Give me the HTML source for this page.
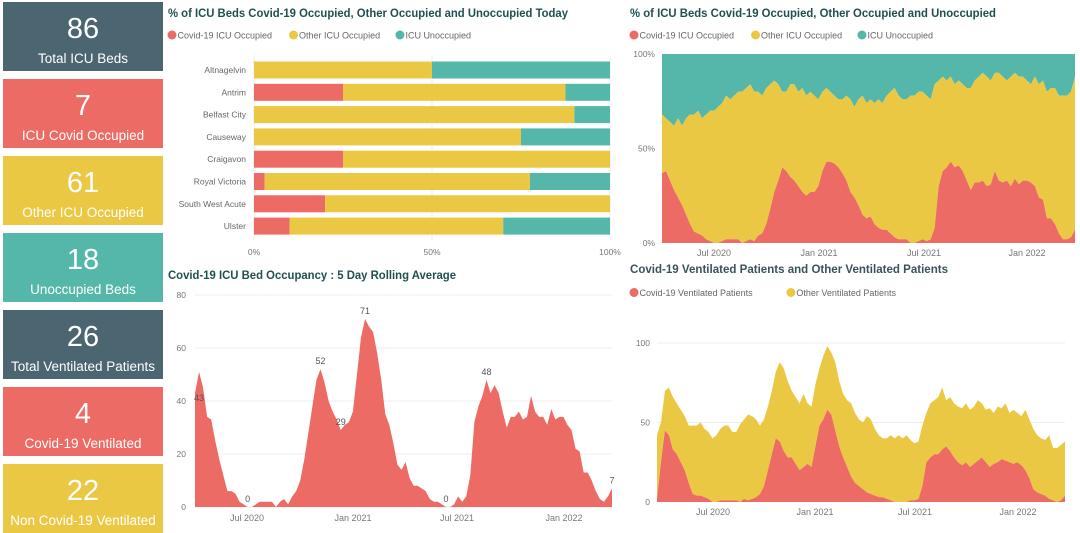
<!DOCTYPE html>
<html><head><meta charset="utf-8">
<style>
body{margin:0;width:1080px;height:531px;background:#fff;overflow:hidden;font-family:"Liberation Sans",sans-serif;position:relative}
.card{position:absolute;left:3px;width:160px;height:69px;color:#fff;text-align:center}
.card .v{font-size:29px;line-height:29px;margin-top:13px}
.card .l{font-size:13.5px;margin-top:7px;white-space:nowrap}
svg{position:absolute;left:0;top:0}
text{font-family:"Liberation Sans",sans-serif}
</style></head><body>
<div class="card" style="top:2px;background:#4B6670"><div class="v">86</div><div class="l">Total ICU Beds</div></div>
<div class="card" style="top:79px;background:#EC6B64"><div class="v">7</div><div class="l">ICU Covid Occupied</div></div>
<div class="card" style="top:156px;background:#EBC844"><div class="v">61</div><div class="l">Other ICU Occupied</div></div>
<div class="card" style="top:233px;background:#55B7A9"><div class="v">18</div><div class="l">Unoccupied Beds</div></div>
<div class="card" style="top:310px;background:#4B6670"><div class="v">26</div><div class="l">Total Ventilated Patients</div></div>
<div class="card" style="top:387px;background:#EC6B64"><div class="v">4</div><div class="l">Covid-19 Ventilated</div></div>
<div class="card" style="top:464px;height:69px;background:#EBC844"><div class="v">22</div><div class="l">Non Covid-19 Ventilated</div></div>

<svg id="s" width="1080" height="531"></svg>
<script>
const hospitals=["Altnagelvin","Antrim","Belfast City","Causeway","Craigavon","Royal Victoria","South West Acute","Ulster"];
const hCovid=[0,25,0,0,25,3,20,10];
const hOther=[50,62.5,90,75,75,74.5,80,60];
const hUnocc=[50,12.5,10,25,0,22.5,0,30];
const pctTicks=["0%","50%","100%"];
const icuCovid=[43,51,45,34,33,25,18,12,6,6,5,2,1,0,0,1,2,2,2,2,0,2,3,1,4,6,10,18,28,38,48,52,47,40,36,33,29,31,32,36,50,64,71,68,66,58,48,35,31,24,16,14,17,11,8,8,7,6,3,2,2,1,0,0,1,4,2,4,12,32,38,42,48,43,46,43,36,30,34,34,36,33,34,42,36,34,34,31,37,33,34,34,31,29,22,21,13,13,10,6,3,2,4,7];
const icuLabelIdx=[0,13,31,36,42,62,72,103];
const icuTicks=[0,20,40,60,80];
const pctCovid=[37,38,33,28,24,20,15,10,6,5,4,2,1,0,0,1,2,2,2,2,0,1,2,1,4,5,10,18,27,33,40,38,35,33,30,27,25,27,27,30,38,43,43,42,40,37,33,27,24,20,15,13,14,10,8,7,7,5,3,2,2,2,0,0,1,2,1,2,8,30,38,40,43,40,41,38,33,28,32,32,33,30,31,38,33,32,33,30,34,31,33,33,32,30,24,23,13,13,10,5,2,2,3,7];
const pctOccupied=[68,66,64,62,66,62,66,68,68,70,66,68,70,70,72,74,78,76,78,80,80,82,84,80,80,78,82,84,86,84,80,80,84,84,80,82,78,80,78,76,80,82,80,78,76,76,78,76,72,76,78,74,76,74,76,74,78,80,82,78,76,76,78,78,80,80,78,76,84,86,88,86,88,84,86,84,82,82,86,88,90,88,86,90,90,88,86,88,90,88,88,86,84,88,84,86,80,82,82,78,78,78,80,88];
const ventCovid=[2,25,45,42,33,30,25,20,12,5,4,4,3,2,0,0,1,1,1,1,1,0,2,1,2,3,5,10,20,30,40,38,32,28,28,24,20,22,24,22,35,48,52,58,55,45,35,28,22,16,12,10,8,6,5,4,3,3,2,1,0,0,0,0,1,1,2,10,25,28,30,30,33,35,32,28,25,23,25,22,24,26,28,25,22,24,25,27,26,25,24,25,23,20,15,8,6,5,4,2,1,0,1,4];
const ventTotal=[42,50,70,72,66,62,58,54,48,48,48,50,46,44,40,42,46,48,48,44,44,49,52,55,54,52,48,52,60,70,82,88,84,76,70,66,62,68,62,60,74,84,92,98,94,88,76,68,64,62,56,52,50,54,52,46,42,40,40,42,40,42,40,42,39,37,38,48,56,62,64,66,72,64,66,62,60,59,62,58,60,64,62,58,59,56,60,59,62,56,58,56,54,58,52,46,42,40,39,42,34,34,36,38];
const ventTicks=[0,50,100];
const dateTicks=["Jul 2020","Jan 2021","Jul 2021","Jan 2022"];

const NS="http://www.w3.org/2000/svg", S=document.getElementById('s');
const RED="#EC6B64",YEL="#EBC844",TEAL="#55B7A9";
function mk(tag,at,txt){const e=document.createElementNS(NS,tag);for(const k in at)e.setAttribute(k,at[k]);if(txt!==undefined)e.textContent=txt;S.appendChild(e);return e;}
function title(x,y,t,c,n,w){const e=mk('text',{x:x,y:y,'font-size':12,'font-weight':'bold',fill:c,textLength:w,lengthAdjust:'spacingAndGlyphs'},t);

}
function legend(x,y,items,n){let cx=x;items.forEach(it=>{const c=mk('circle',{cx:cx+4,cy:y-3.5,r:4.5,fill:it[1]});


const t=mk('text',{x:cx+9.5,y:y,'font-size':9,fill:'#666'},it[0]);


cx+=9.5+it[0].length*5.05+6;});}
function band(xf,yf,top,bot,col,n){let p=[];for(let i=0;i<top.length;i++)p.push(xf(i)+','+yf(top[i]));for(let i=bot.length-1;i>=0;i--)p.push(xf(i)+','+yf(bot[i]));
const e=mk('polygon',{points:p.join(' '),fill:col});

}
function dateAxis(xs,y,n){dateTicks.forEach((d,i)=>{const e=mk('text',{x:xs[i],y:y,'font-size':9,fill:'#777','text-anchor':'middle'},d);

});}
const N=icuCovid.length, zeros=icuCovid.map(()=>0), hund=icuCovid.map(()=>100);

// Chart 1
title(168,17,"% of ICU Beds Covid-19 Occupied, Other Occupied and Unoccupied Today","#1F5050","bar-chart-title",400);
legend(168,38.5,[["Covid-19 ICU Occupied",RED],["Other ICU Occupied",YEL],["ICU Unoccupied",TEAL]],"bar-legend");
const bx=v=>254+v*3.56, by=i=>70+i*22.3;
[0,50,100].forEach((v,i)=>{mk('line',{x1:bx(v),x2:bx(v),y1:55,y2:240,stroke:'#eee'});
const t=mk('text',{x:bx(v),y:255,'font-size':8.5,fill:'#777','text-anchor':'middle'},pctTicks[i]);

});
hospitals.forEach((h,i)=>{const t=mk('text',{x:246,y:by(i)+3,'font-size':8.5,fill:'#666','text-anchor':'end'},h);


let acc=0;[[hCovid,RED],[hOther,YEL],[hUnocc,TEAL]].forEach(s=>{const v=s[0][i];if(v>0){const r=mk('rect',{x:bx(acc),y:by(i)-8.5,width:v*3.56,height:17,fill:s[1]});

}acc+=v;});});

// Chart 2
title(630,17,"% of ICU Beds Covid-19 Occupied, Other Occupied and Unoccupied","#1F5050","pct-area-title",366);
legend(630,38.5,[["Covid-19 ICU Occupied",RED],["Other ICU Occupied",YEL],["ICU Unoccupied",TEAL]],"pct-legend");
const px=i=>662+i*(413/(N-1)), py=v=>243-v*1.89;
band(px,py,hund,pctOccupied,TEAL,"unoccupied-area");
band(px,py,pctOccupied,pctCovid,YEL,"other-occupied-area");
band(px,py,pctCovid,zeros,RED,"covid-occupied-area");
[[0,"0%"],[50,"50%"],[100,"100%"]].forEach(t=>{const e=mk('text',{x:655,y:py(t[0])+3,'font-size':8.5,fill:'#777','text-anchor':'end'},t[1]);

});
dateAxis([714,819,924,1027],256,"pct-x-tick");

// Chart 3
title(168,279,"Covid-19 ICU Bed Occupancy : 5 Day Rolling Average","#1F5050","rolling-title",288);
const rx=i=>195+i*(417/(N-1)), ry=v=>507-v*2.65;
icuTicks.forEach(v=>{mk('line',{x1:195,x2:612,y1:ry(v),y2:ry(v),stroke:'#eee'});
const e=mk('text',{x:186,y:ry(v)+3,'font-size':8.5,fill:'#777','text-anchor':'end'},v);

});
band(rx,ry,icuCovid,zeros,RED,"rolling-area");
icuLabelIdx.forEach(i=>{const e=mk('text',{x:rx(i)+(i===0?4:0),y:ry(icuCovid[i])-(i===0?-8:5),'font-size':9,fill:'#555','text-anchor':'middle'},icuCovid[i]);

});
dateAxis([247,353,457,564],521,"rolling-x-tick");

// Chart 4
title(630,273,"Covid-19 Ventilated Patients and Other Ventilated Patients","#3A525C","vent-title",318);
legend(630,296,[["Covid-19 Ventilated Patients",RED],["Other Ventilated Patients",YEL]],"vent-legend");
const vx=i=>657+i*(408/(N-1)), vy=v=>502-v*1.59;
ventTicks.forEach(v=>{if(v>0)mk('line',{x1:657,x2:1065,y1:vy(v),y2:vy(v),stroke:'#eee'});
const e=mk('text',{x:650,y:vy(v)+3,'font-size':8.5,fill:'#777','text-anchor':'end'},v);

});
band(vx,vy,ventTotal,ventCovid,YEL,"other-ventilated-area");
band(vx,vy,ventCovid,zeros,RED,"covid-ventilated-area");
dateAxis([713,815,915,1018],515,"vent-x-tick");
</script>
</body></html>
